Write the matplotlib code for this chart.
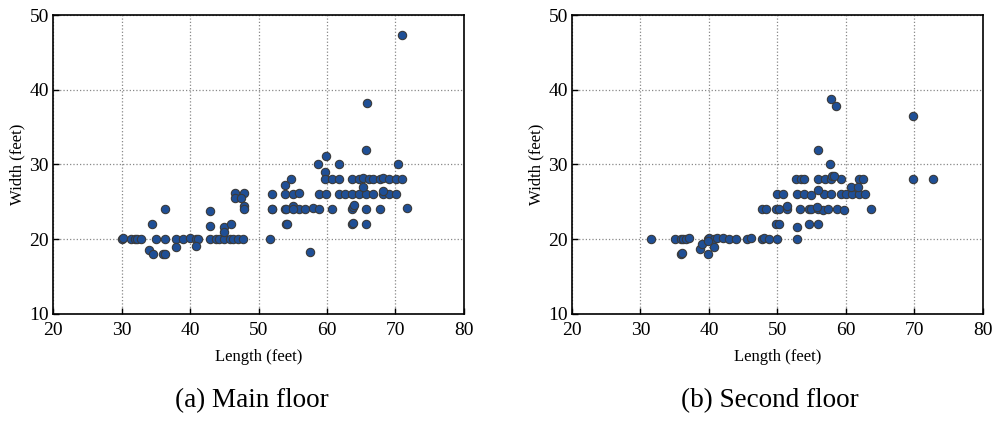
import matplotlib.pyplot as plt
import numpy as np

plt.rcParams['font.family'] = ['Liberation Serif', 'DejaVu Serif']

# main floor: (length, width) in feet
main_len = [30, 30.2, 31.4, 31.9, 32.3, 32.9, 35, 36.3, 38, 39, 40, 40.9, 41.2,
            42.9, 43.8, 44.3, 44.9, 45.8, 46.3, 47, 47.8, 51.7,
            34, 34.6, 36.1, 36.4, 34.5, 36.4, 38, 40.9,
            42.9, 42.9, 44.9, 44.9, 46, 46.6, 47.9, 46.5, 47.5, 47.9, 47.9,
            51.9, 51.9, 52, 53.8, 53.9, 55, 55.9, 54.8, 53.8, 54, 55, 55.9, 56.8,
            55, 54, 54.1, 57.5, 57.9,
            58.7, 58.9, 59.8, 58.9, 59.8, 59.7, 59.7, 60.7, 61.7, 60.8, 61.7,
            61.7, 62.7, 63.7, 64.7, 65.7, 66.7,
            63.7, 64.7, 65.3, 66.2, 66.7, 65.3, 63.7, 63.8, 65.7, 67.7, 63.9,
            63.7, 63.8, 65.7, 65.8, 65.7,
            67.7, 68.2, 69.1, 70.1, 70.9, 68.2, 69.1, 70.1, 68.2, 70.3, 70.9, 71.7]
main_wid = [20, 20.2, 20, 20.1, 20.1, 20, 20, 20.1, 20, 20, 20.2, 20, 20.1,
            20.1, 20, 20.1, 20.1, 20, 20.1, 20, 20, 20,
            18.6, 18, 18, 18, 22, 24, 19, 19.1,
            23.8, 21.8, 21.7, 21, 22, 26.2, 26.2, 25.5, 25.5, 24.5, 24,
            26, 24, 24, 27.2, 26, 26, 26.2, 28, 24, 24, 24.5, 24, 24,
            24, 22, 22, 18.3, 24.2,
            30, 26, 26, 24, 31.1, 29, 28, 28, 28, 24, 30,
            26, 26, 26, 26, 26, 26,
            28, 28, 28.2, 28, 28, 27, 24, 24.3, 24, 24, 24.6,
            22, 22.2, 22, 38.2, 32,
            28, 28.2, 28, 28, 28, 26, 26, 26, 26.5, 30, 47.3, 24.2]

# second floor
second_len = [31.5, 35, 35.9, 36.2, 36.6, 37.1, 39.8, 40, 40.7, 41.2, 42, 42.9,
              43.9, 45.6, 46.1, 47.8, 48, 48.8, 49.9, 52.8,
              35.9, 36.1, 39.8, 38.7, 39, 40.8, 39.8,
              47.8, 48.3, 49.8, 50.2, 51.4, 53.3, 54.6, 54.9, 55.9, 56.6, 57.3,
              58.7, 59.7, 63.7, 51.4, 55.8,
              49.8, 50.2, 54.6, 55.9, 52.8,
              49.9, 50.8, 52.8, 53.8, 54.9, 56.8, 57.8, 59.2, 60, 60.9, 61.9, 62.8,
              55.9,
              52.7, 53.4, 53.8, 55.9, 57, 57.8, 59.2, 61.9, 62.5, 58, 58.3,
              60.7, 61.7, 57.7, 55.9, 57.8, 58.6, 69.8, 69.8, 72.7]
second_wid = [20, 20, 20, 20.1, 20, 20.2, 20, 20.2, 20.1, 20.2, 20.2, 20.1,
              20, 20, 20.2, 20, 20.2, 20, 20, 20,
              18, 18.2, 18, 18.7, 19.3, 19, 19.8,
              24, 24, 24, 24.1, 24, 24, 24, 24, 24, 23.9, 24,
              24, 23.9, 24, 24.4, 24.3,
              22, 22, 22, 22, 21.7,
              26, 26, 26, 26, 25.9, 26, 26, 26, 26, 26, 26, 26,
              26.6,
              28, 28.1, 28, 28, 28, 28, 28, 28.1, 28.1, 28.5, 28.5,
              27, 27, 30, 32, 38.7, 37.8, 36.5, 28, 28]

panels = [(main_len, main_wid, '(a) Main floor', 252),
          (second_len, second_wid, '(b) Second floor', 770)]

fig = plt.figure(figsize=(9.95, 4.21), dpi=100)
W, H = 995, 421
rects = [(53, 15, 411, 299), (572, 15, 411, 299)]

for (xs, ys, cap, cx), (l, t, w, h) in zip(panels, rects):
    ax = fig.add_axes([l / W, 1 - (t + h) / H, w / W, h / H])
    ax.scatter(xs, ys, s=36, c='#1f4f96', edgecolors='#3a3a3a',
               linewidths=0.8, zorder=3)
    ax.set_xlim(20, 80)
    ax.set_ylim(10, 50)
    ax.set_xticks(np.arange(20, 81, 10))
    ax.set_yticks(np.arange(10, 51, 10))
    ax.grid(True, linestyle=':', color='#888888', linewidth=0.9)
    ax.tick_params(direction='in', length=4, width=1, labelsize=14)
    ax.tick_params(axis='x', pad=6)
    ax.tick_params(axis='y', pad=3)
    for sp in ax.spines.values():
        sp.set_linewidth(1.2)
    ax.set_xlabel('Length (feet)', fontsize=12, labelpad=7)
    ax.set_ylabel('Width (feet)', fontsize=12, labelpad=3)
    fig.text(cx / W, 1 - 401 / H, cap, ha='center', va='center',
             fontsize=19.5)

fig.savefig('out.png', dpi=100)
